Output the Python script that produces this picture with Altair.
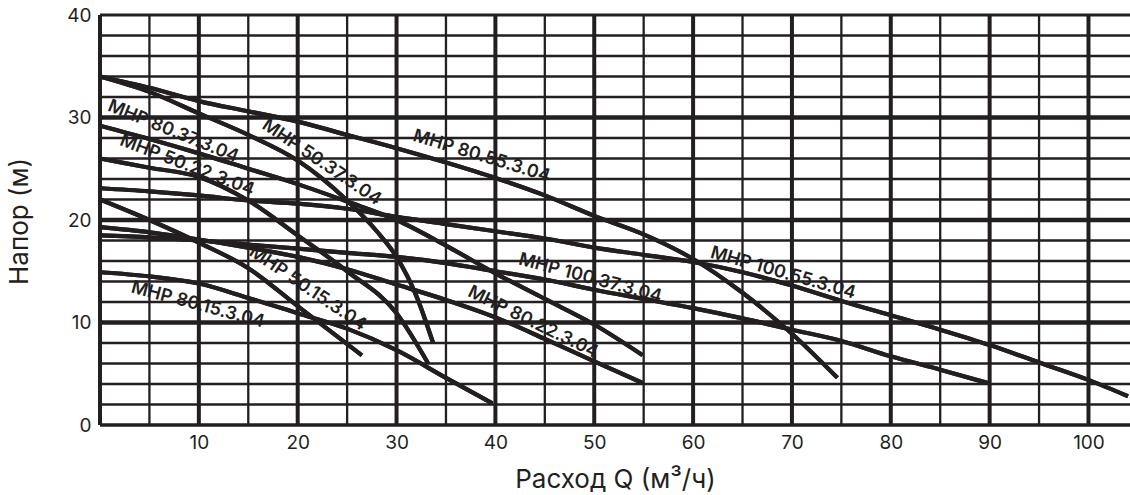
import altair as alt
import pandas as pd

INK = "#231f20"
FONT = "Inter"

# ---- pump curves (Q in m3/h, H in m) ----
Q_8055 = [0, 5, 10, 15, 20, 25, 30, 35, 40, 45, 50, 55, 60, 65, 70, 74.6]
H_8055 = [34.0, 32.9, 31.6, 30.6, 29.6, 28.3, 27.0, 25.6, 24.1, 22.4, 20.4, 18.6, 16.2, 12.9, 8.9, 4.6]

Q_5037 = [0, 5, 10, 15, 20, 25, 28, 30, 32, 33.7]
H_5037 = [34.0, 32.5, 30.4, 28.3, 25.8, 21.9, 18.9, 16.4, 12.6, 8.0]

Q_8037 = [0, 5, 10, 15, 20, 25, 30, 35, 40, 45, 50, 54.9]
H_8037 = [29.2, 27.9, 26.5, 25.0, 23.5, 21.8, 20.0, 17.5, 14.8, 12.3, 9.8, 6.8]

Q_5022 = [0, 5, 10, 15, 20, 25, 30, 33.2]
H_5022 = [26.0, 25.1, 24.2, 21.9, 18.5, 15.0, 10.9, 6.0]

Q_10055 = [0, 5, 10, 15, 20, 25, 30, 35, 40, 45, 50, 55, 60, 65, 70, 75, 80, 85, 90, 95, 100, 104]
H_10055 = [23.1, 22.8, 22.4, 21.9, 21.6, 21.1, 20.3, 19.6, 18.9, 18.2, 17.3, 16.6, 15.9, 14.9, 13.6, 12.1, 10.7, 9.3, 7.8, 6.1, 4.4, 2.8]

Q_5015 = [0, 5, 10, 15, 20, 26.5]
H_5015 = [22.0, 20.0, 17.8, 15.3, 11.6, 6.8]

Q_8022 = [0, 5, 10, 15, 20, 25, 30, 35, 40, 45, 50, 54.9]
H_8022 = [19.3, 18.8, 18.1, 17.3, 16.4, 15.2, 13.7, 12.2, 10.5, 8.4, 6.2, 4.1]

Q_10037 = [0, 5, 10, 15, 20, 25, 30, 35, 40, 45, 50, 55, 60, 65, 70, 75, 80, 85, 89.8]
H_10037 = [18.5, 18.3, 18.0, 17.6, 17.2, 16.8, 16.4, 15.8, 15.0, 14.2, 13.2, 12.3, 11.4, 10.4, 9.3, 8.2, 6.7, 5.4, 4.1]

Q_8015 = [0, 5, 10, 15, 20, 25, 30, 35, 39.7]
H_8015 = [14.9, 14.5, 13.8, 12.4, 10.9, 9.4, 7.3, 4.6, 2.1]

# ---- curve labels ----
LABEL_TEXT = ["MHP 80.37.3.04", "MHP 50.22.3.04", "MHP 50.37.3.04", "MHP 80.55.3.04",
              "MHP 100.37.3.04", "MHP 100.55.3.04", "MHP 80.22.3.04", "MHP 50.15.3.04",
              "MHP 80.15.3.04"]
LABEL_Q = [7.4, 8.8, 22.4, 38.6, 49.6, 69.1, 43.8, 21.0, 9.9]
LABEL_H = [28.6, 25.3, 25.6, 26.2, 14.3, 14.8, 10.0, 13.3, 11.7]
LABEL_ANGLE = [22, 21, 34, 17, 15, 16, 26, 34, 15]

# ---- grid / ticks ----
X_THIN = [5, 15, 25, 35, 45, 55, 65, 75, 85, 95]
X_THICK = [10, 20, 30, 40, 50, 60, 70, 80, 90, 100]
Y_THIN = [2, 4, 6, 8, 12, 14, 16, 18, 22, 24, 26, 28, 32, 34, 36, 38]
Y_THICK = [10, 20, 30]
X_TICKS = [10, 20, 30, 40, 50, 60, 70, 80, 90, 100]
Y_TICKS = [0, 10, 20, 30, 40]

curves = [
    ("80.55", Q_8055, H_8055), ("50.37", Q_5037, H_5037), ("80.37", Q_8037, H_8037),
    ("50.22", Q_5022, H_5022), ("100.55", Q_10055, H_10055), ("50.15", Q_5015, H_5015),
    ("80.22", Q_8022, H_8022), ("100.37", Q_10037, H_10037), ("80.15", Q_8015, H_8015),
]
rows = []
for name, qs, hs in curves:
    for q, h in zip(qs, hs):
        rows.append({"model": name, "Q": q, "H": h})
df = pd.DataFrame(rows)

labels_df = pd.DataFrame({"text": LABEL_TEXT, "Q": LABEL_Q, "H": LABEL_H, "angle": LABEL_ANGLE})

xs = alt.Scale(domain=[0, 104.2], nice=False, zero=False)
ys = alt.Scale(domain=[0, 40], nice=False, zero=False)

X_AXIS = alt.Axis(values=X_TICKS, ticks=False, domain=False, grid=False,
                  labelFont=FONT, labelFontSize=19, labelColor=INK, labelPadding=8,
                  title="Расход Q (м³/ч)", titleFont=FONT, titleFontSize=26,
                  titleFontWeight="normal", titleColor=INK,
                  titleY=62, titleBaseline="alphabetic")
Y_AXIS = alt.Axis(values=Y_TICKS, ticks=False, domain=False, grid=False,
                  labelFont=FONT, labelFontSize=19, labelColor=INK, labelPadding=9,
                  title="Напор (м)", titleFont=FONT, titleFontSize=26,
                  titleFontWeight="normal", titleColor=INK,
                  titleX=-68, titleY=206)


def vrules(vals, w):
    return alt.Chart(pd.DataFrame({"v": vals})).mark_rule(color=INK, strokeWidth=w).encode(
        x=alt.X("v:Q", scale=xs, axis=X_AXIS))


def hrules(vals, w):
    return alt.Chart(pd.DataFrame({"v": vals})).mark_rule(color=INK, strokeWidth=w).encode(
        y=alt.Y("v:Q", scale=ys, axis=Y_AXIS))


lines = alt.Chart(df).mark_line(color=INK, strokeWidth=4.2, interpolate="monotone",
                                strokeCap="butt").encode(
    x=alt.X("Q:Q", scale=xs, axis=X_AXIS),
    y=alt.Y("H:Q", scale=ys, axis=Y_AXIS),
    detail="model:N",
)

texts = alt.Chart(labels_df).mark_text(font=FONT, fontSize=18, fontWeight=600, color=INK,
                                       align="center", baseline="middle").encode(
    x=alt.X("Q:Q", scale=xs, axis=X_AXIS),
    y=alt.Y("H:Q", scale=ys, axis=Y_AXIS),
    text="text:N",
    angle=alt.Angle("angle:Q", scale=None),
)

chart = alt.layer(
    lines,
    vrules(X_THIN, 2.3),
    hrules(Y_THIN, 2.3),
    vrules(X_THICK, 4),
    hrules(Y_THICK, 4.5),
    hrules([40], 3),
    hrules([0], 3.5),
    vrules([0], 4),
    lines,
    texts,
).properties(
    width=1030, height=410,
    autosize=alt.AutoSizeParams(type="none"),
    padding={"left": 100, "top": 15, "right": 0, "bottom": 70},
).configure_view(stroke=None).configure(background="white")

chart.save("out.html", embed_options={"renderer": "svg", "actions": False})
